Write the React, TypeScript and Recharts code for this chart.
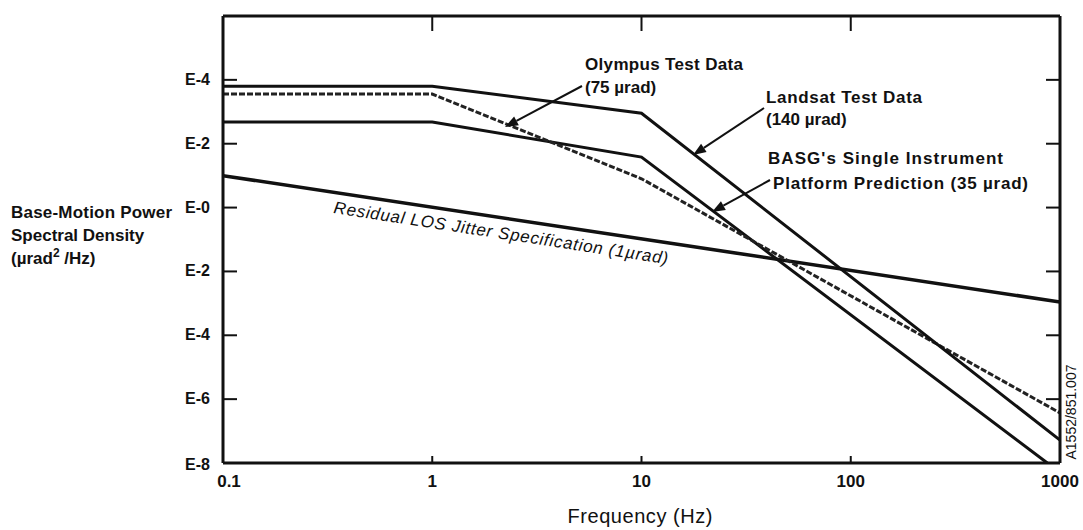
import React from 'react';
import { LineChart, Line, XAxis, YAxis } from 'recharts';

// frequency axis (Hz), log scale
const freqTicks = [0.1, 1, 10, 100, 1000];
const freqTickLabels = ['0.1', '1', '10', '100', '1000'];
const freqInnerTicks = [1, 10, 100];

// PSD axis (µrad²/Hz), log scale; labels as printed on the original
const psdTicks = [1e-8, 1e-6, 1e-4, 1e-2, 1, 1e2, 1e4];
const psdTickLabels = ['E-8', 'E-6', 'E-4', 'E-2', 'E-0', 'E-2', 'E-4'];

// series
const landsatFreq = [0.1, 1, 10, 1000];
const landsatPsd = [6.3e3, 6.3e3, 9e2, 5.2e-8];

const olympusFreq = [0.1, 1, 10, 1000];
const olympusPsd = [3.6e3, 3.6e3, 8, 3.7e-7];

const basgFreq = [0.1, 1, 10, 870];
const basgPsd = [4.8e2, 4.8e2, 38, 1e-8];

const residualFreq = [0.1, 1000];
const residualPsd = [10, 1.1e-3];

const toPoints = (f: number[], p: number[]) => f.map((x, i) => ({ f: x, psd: p[i] }));

const font = '"Liberation Sans", Arial, sans-serif';
const ink = '#111';

const LeftTick = (props: any) => {
  const { x, y, payload, index } = props;
  const isBottom = payload.value === psdTicks[0];
  return (
    <g>
      {!isBottom && <line x1={x + 13} x2={x + 27} y1={y} y2={y} stroke={ink} strokeWidth={2} />}
      <text x={x} y={y} dy={isBottom ? 7 : 5} textAnchor="end" fontFamily={font} fontWeight={700} fontSize={16} fill={ink}>
        {psdTickLabels[index]}
      </text>
    </g>
  );
};

const RightTick = (props: any) => {
  const { x, y, payload } = props;
  if (payload.value === psdTicks[0]) return null;
  return <line x1={x - 1} x2={x - 14} y1={y} y2={y} stroke={ink} strokeWidth={2} />;
};

const BottomTick = (props: any) => {
  const { x, y, payload, index } = props;
  const inner = freqInnerTicks.includes(payload.value);
  const shift = index === 0 ? 6 : 0;
  return (
    <g>
      {inner && <line x1={x} x2={x} y1={y - 1} y2={y - 7} stroke={ink} strokeWidth={2} />}
      <text x={x + shift} y={y + 24} textAnchor="middle" fontFamily={font} fontWeight={700} fontSize={17} fill={ink}>
        {freqTickLabels[index]}
      </text>
    </g>
  );
};

const TopTick = (props: any) => {
  const { x, y } = props;
  return <line x1={x} x2={x} y1={y + 1} y2={y + 15} stroke={ink} strokeWidth={2} />;
};

const Arrow = ({ x1, y1, x2, y2 }: { x1: number; y1: number; x2: number; y2: number }) => {
  const a = Math.atan2(y2 - y1, x2 - x1);
  const len = 13;
  const w = 5;
  const bx = x2 - len * Math.cos(a);
  const by = y2 - len * Math.sin(a);
  const px = -Math.sin(a) * w;
  const py = Math.cos(a) * w;
  return (
    <g>
      <line x1={x1} y1={y1} x2={bx} y2={by} stroke={ink} strokeWidth={2} />
      <polygon points={`${x2},${y2} ${bx + px},${by + py} ${bx - px},${by - py}`} fill={ink} />
    </g>
  );
};

export default function App() {
  return (
    <div style={{ position: 'absolute', left: 0, top: 0, width: 1083, height: 530, background: '#fff' }}>
      <LineChart width={1083} height={530} margin={{ top: 10, right: 3, bottom: 27, left: 173 }}>
        <XAxis
          dataKey="f"
          type="number"
          scale="log"
          domain={[0.1, 1000]}
          ticks={freqTicks}
          allowDataOverflow
          height={40}
          tickSize={0}
          tickMargin={0}
          tickLine={false}
          axisLine={{ stroke: ink, strokeWidth: 3 }}
          tick={<BottomTick />}
          interval={0}
        />
        <XAxis
          xAxisId="top"
          orientation="top"
          dataKey="f"
          type="number"
          scale="log"
          domain={[0.1, 1000]}
          ticks={freqInnerTicks}
          allowDataOverflow
          height={6}
          tickSize={0}
          tickMargin={0}
          tickLine={false}
          axisLine={{ stroke: ink, strokeWidth: 3 }}
          tick={<TopTick />}
          interval={0}
        />
        <YAxis
          dataKey="psd"
          type="number"
          scale="log"
          domain={[1e-8, 1e6]}
          ticks={psdTicks}
          allowDataOverflow
          width={50}
          tickSize={0}
          tickMargin={13}
          tickLine={false}
          axisLine={{ stroke: ink, strokeWidth: 3 }}
          tick={<LeftTick />}
          interval={0}
        />
        <YAxis
          yAxisId="right"
          orientation="right"
          type="number"
          scale="log"
          domain={[1e-8, 1e6]}
          ticks={psdTicks}
          allowDataOverflow
          width={20}
          tickSize={0}
          tickMargin={0}
          tickLine={false}
          axisLine={{ stroke: ink, strokeWidth: 3 }}
          tick={<RightTick />}
          interval={0}
        />
        <Line data={toPoints(residualFreq, residualPsd)} dataKey="psd" stroke={ink} strokeWidth={3.5} dot={false} isAnimationActive={false} />
        <Line data={toPoints(basgFreq, basgPsd)} dataKey="psd" stroke={ink} strokeWidth={3} dot={false} isAnimationActive={false} />
        <Line data={toPoints(olympusFreq, olympusPsd)} dataKey="psd" stroke="#222" strokeWidth={3} strokeDasharray="6 2" dot={false} isAnimationActive={false} />
        <Line data={toPoints(landsatFreq, landsatPsd)} dataKey="psd" stroke={ink} strokeWidth={3} dot={false} isAnimationActive={false} />
      </LineChart>

      <svg width={1083} height={530} style={{ position: 'absolute', left: 0, top: 0, pointerEvents: 'none' }}>
        <g fontFamily={font} fill={ink}>
          <text x={11} y={218} fontSize={17} fontWeight={700} textLength={161}>Base-Motion Power</text>
          <text x={11} y={241} fontSize={17} fontWeight={700}>Spectral Density</text>
          <text x={11} y={264} fontSize={17} fontWeight={700}>
            (µrad<tspan dy={-7} fontSize={12}>2</tspan>
            <tspan dy={7}> /Hz)</tspan>
          </text>

          <text x={585} y={70} fontSize={17} fontWeight={700} textLength={158}>Olympus Test Data</text>
          <text x={585} y={93} fontSize={17} fontWeight={700}>(75 µrad)</text>
          <text x={766} y={103} fontSize={17} fontWeight={700} textLength={156}>Landsat Test Data</text>
          <text x={766} y={125} fontSize={17} fontWeight={700}>(140 µrad)</text>
          <text x={768} y={164} fontSize={17} fontWeight={700} textLength={235}>BASG's Single Instrument</text>
          <text x={773} y={189} fontSize={17} fontWeight={700} textLength={255}>Platform Prediction  (35 µrad)</text>

          <text x={333} y={213} fontSize={17} fontStyle="italic" textLength={338} transform="rotate(8.7 333 213)">
            Residual LOS Jitter Specification (1µrad)
          </text>

          <text x={640} y={523} fontSize={20} textAnchor="middle" textLength={145}>Frequency (Hz)</text>

          <text x={1076} y={412} fontSize={14} textAnchor="middle" transform="rotate(-90 1076 412)">
            A1552/851.007
          </text>
        </g>
        <Arrow x1={582} y1={86} x2={505} y2={127} />
        <Arrow x1={764} y1={108} x2={693} y2={155} />
        <Arrow x1={770} y1={180} x2={712} y2={212} />
      </svg>
    </div>
  );
}
